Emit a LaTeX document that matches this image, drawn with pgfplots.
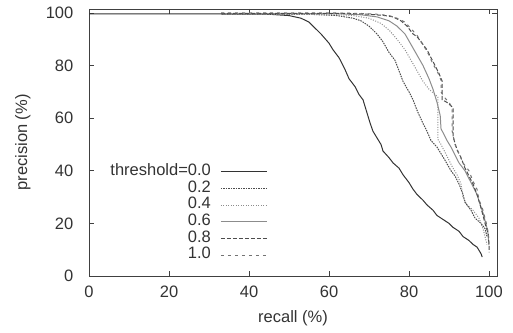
\documentclass[border=0pt]{standalone}
\usepackage{pgfplots}
\pgfplotsset{compat=1.18}
\usepackage{fontspec}
\setmainfont{Liberation Sans}
\begin{document}
\fontsize{16.5bp}{19bp}\selectfont
\begin{tikzpicture}[x=1bp,y=1bp]
\useasboundingbox (0,0) rectangle (513,332);
\begin{axis}[
  at={(89bp,56bp)}, anchor=origin,
  scale only axis, width=408bp, height=267bp,
  xmin=0, xmax=102, ymin=0, ymax=101.5,
  xtick={0,20,40,60,80,100}, ytick={0,20,40,60,80,100},
  tick align=inside, major tick length=5bp,
  xtick pos=both, ytick pos=both,
  xticklabel pos=bottom, yticklabel pos=left,
  /pgf/number format/assume math mode=true,
  tick label style={font=\fontsize{16.5bp}{19bp}\selectfont, text=black!80},
  xticklabel style={yshift=-4bp},
  yticklabel style={xshift=-10bp},
  axis line style={black!75, line width=0.9bp},
  every tick/.style={black!75, line width=0.8bp},
  xlabel={recall (\%)}, ylabel={precision (\%)},
  label style={font=\fontsize{16.5bp}{19bp}\selectfont, text=black!80},
  xlabel style={at={(axis description cs:0.5,-0.157)}, anchor=center},
  ylabel style={at={(axis description cs:-0.162,0.5)}, anchor=center, rotate=0},
  legend cell align=right, legend plot pos=right,
  legend image code/.code={\path[draw=none,fill=none] (0bp,0bp) -- (10bp,0bp); \draw[#1] (10bp,0bp) -- (56bp,0bp);},
  legend style={draw=none, fill=none, at={(0.445,0.43)}, anchor=north east,
    font=\fontsize{16.5bp}{19bp}\selectfont, text=black!80,
    nodes={inner sep=0pt, text height=12bp, text depth=4.7bp}},
]
\addplot[black!80, line width=1bp] coordinates {
(0,99.6) (33,99.6) (45,99.5) (50,99) (53,98) (55,96.5) (56,95) (58,92) (60,88.5) (61,86) (62.5,83) (64,78.5) (65,75) (66.5,72) (67.5,69) (68.5,67) (69.5,62) (70.3,58) (71,55) (72,52.5) (73,50) (73.5,47.5) (75,45) (76,43) (77.5,41) (78.5,38.5) (80,35.5) (81,33) (82,31) (83.5,28.8) (84.5,27) (86,25) (87,23) (88,22) (90,20) (91,18.5) (92.5,17) (93.5,15) (95,13.5) (96,12) (97,11) (98,8.5) (98.3,7.2)};
\addlegendentry{threshold=0.0}
\addplot[black!70, line width=1bp, dash pattern=on 1.5bp off 1bp] coordinates {
(33,99.5) (55,99.5) (62,99) (66,98) (68,97) (70,95) (72,92) (73.5,89) (75,85) (76.5,82) (77.5,78) (78.5,74) (80,70) (81,67) (82,63) (83.5,58) (84.5,55) (85.5,51.5) (87,49) (88,46.5) (89,44) (90.5,40) (91.5,38) (92.5,35) (93.5,31) (94,28) (95.5,25) (96.5,22) (98,20) (99,18) (99.5,15)};
\addlegendentry{0.2}
\addplot[black!45, line width=1bp, dash pattern=on 1bp off 1.5bp] coordinates {
(33,99.5) (60,99.5) (66,99) (70,98) (73,96) (75,93.5) (77,90) (79,86) (80.5,82) (82,78) (83.5,74) (85,71) (86.5,69) (87.2,68) (87.2,52) (88,50) (89,47) (90,44) (91,41) (92,38.5) (93,35) (93.5,30) (94.5,27) (96,25) (97.5,22) (98.5,18) (99,15) (99.5,12)};
\addlegendentry{0.4}
\addplot[black!45, line width=1bp] coordinates {
(33,99.7) (62,99.7) (68,99.3) (72,98.5) (75,97) (77,95) (79,92) (80.5,88) (82,84) (83.5,80) (85,75) (86,71) (87,66) (87.8,61) (88,56) (89,53) (89.5,51.5) (90.5,49) (91.5,46) (92.5,43) (94,40) (95,37) (96,34) (97,31) (97.8,27) (98.5,24) (99.2,20) (99.7,17) (99.9,13)};
\addlegendentry{0.6}
\addplot[black!70, line width=1bp, dash pattern=on 4bp off 2bp] coordinates {
(33,99.8) (65,99.8) (70,99.5) (74,99) (76,98.5) (78,97) (79.5,95) (81,92) (82,91) (83,89) (84.5,86) (85.5,83) (86.5,80) (87.5,77) (88.3,74) (88.3,67) (89.5,66) (91,64) (91,53) (92,48) (93,45) (94,41) (95,38) (96,35) (97,31) (97.8,27) (98.5,23) (99,20) (99.8,16) (100,12) (100,9)};
\addlegendentry{0.8}
\addplot[black!55, line width=1bp, dash pattern=on 3bp off 4bp] coordinates {
(33,100) (62,100) (68,99.8) (72,99.5) (75,99) (77,98) (79,96.5) (80.5,94) (82,91.5) (83.5,88) (85,84) (86,80.5) (87,78) (88,74.5) (88,70) (88.8,68) (90,66) (90.8,64) (90.8,55) (91.5,50) (92.5,46.5) (93.5,43) (95,40) (96,36) (97,33) (97.5,29) (98.5,25) (99,22) (99.5,19) (99.9,15) (100,11)};
\addlegendentry{1.0}
\end{axis}
\end{tikzpicture}
\end{document}
